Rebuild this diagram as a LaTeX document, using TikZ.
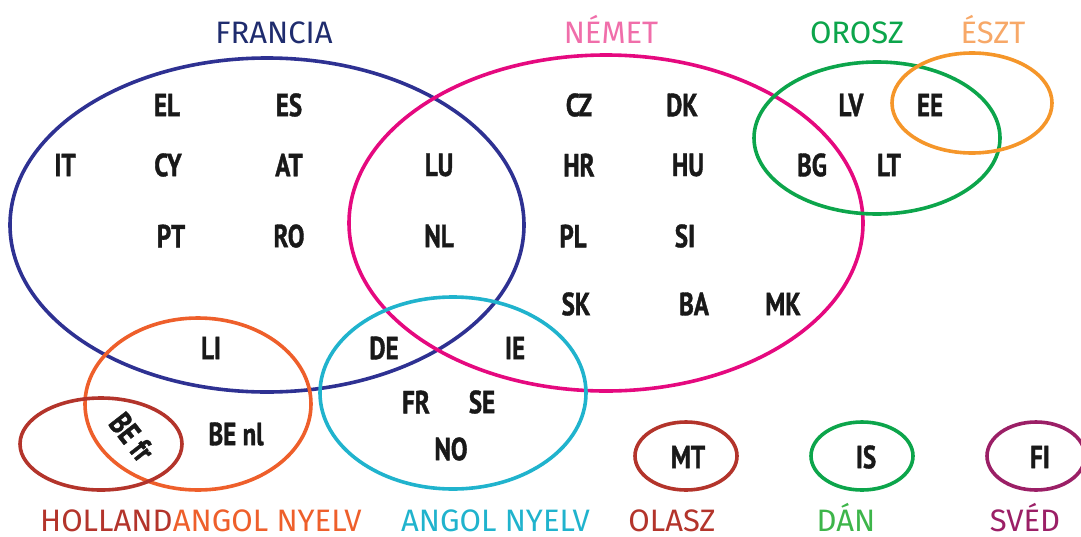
\documentclass[tikz,border=0pt]{standalone}
\usepackage{fontspec}
\setmainfont{Fira Sans}
\newfontfamily\codefont[FakeStretch=0.78,FakeBold=1.2]{PT Sans}
\newfontfamily\labfont{Fira Sans}
\definecolor{cfr}{HTML}{2E3192}
\definecolor{cfrt}{HTML}{1F2C6E}
\definecolor{cde}{HTML}{E5097F}
\definecolor{cdet}{HTML}{F06EAA}
\definecolor{cru}{HTML}{0CA54B}
\definecolor{cee}{HTML}{F5962A}
\definecolor{ceet}{HTML}{F7A868}
\definecolor{cen}{HTML}{EE5F2B}
\definecolor{cie}{HTML}{20B3CD}
\definecolor{cnl}{HTML}{B3342B}
\definecolor{cdk}{HTML}{16A74A}
\definecolor{cdkt}{HTML}{3DB54A}
\definecolor{cse}{HTML}{9B1F66}
\tikzset{
  ring/.style={line width=3.6pt},
  code/.style={font=\codefont\bfseries\fontsize{32}{32}\selectfont, text=black!90, inner sep=0pt},
  lab/.style={font=\labfont\fontsize{31}{31}\selectfont, inner sep=0pt, text depth=0pt},
}
\begin{document}
\begin{tikzpicture}[x=1pt,y=-1pt]
\useasboundingbox (0,0) rectangle (1081,536);
% ellipses
\draw[ring,cfr] (267,225) ellipse [x radius=257pt, y radius=167pt];
\draw[ring,cde] (606,223) ellipse [x radius=257pt, y radius=168pt];
\draw[ring,cru] (877,138) ellipse [x radius=123pt, y radius=76pt];
\draw[ring,cee] (972,103) ellipse [x radius=80pt, y radius=50pt];
\draw[ring,cen] (198,404) ellipse [x radius=113pt, y radius=86pt];
\draw[ring,cnl] (101,444) ellipse [x radius=81pt, y radius=46pt];
\draw[ring,cie] (453,393) ellipse [x radius=133pt, y radius=96pt];
\draw[ring,cnl] (686,456) ellipse [x radius=51pt, y radius=34pt];
\draw[ring,cru] (862,456) ellipse [x radius=51pt, y radius=34pt];
\draw[ring,cse] (1036,456) ellipse [x radius=49pt, y radius=34pt];
% top labels
\node[lab,text=cfrt,anchor=base] (lfr) at (274,43) {FRANCIA};
\node[lab,text=cdet,anchor=base] (lde) at (611,43) {NÉMET};
\node[lab,text=cru,anchor=base] (lru) at (857,43) {OROSZ};
\node[lab,text=ceet,anchor=base] (lee) at (993,43) {ÉSZT};
% bottom labels
\node[lab,text=cnl,anchor=base west] (lnl) at (40,531) {HOLLAND};
\node[lab,text=cen,anchor=base west] (len1) at (lnl.base east) {ANGOL NYELV};
\node[lab,text=cie,anchor=base west] (len2) at (401,531) {ANGOL NYELV};
\node[lab,text=cnl,anchor=base] (lit) at (672,531) {OLASZ};
\node[lab,text=cdkt,anchor=base] (ldk) at (846,531) {DÁN};
\node[lab,text=cse,anchor=base] (lse) at (1025,531) {SVÉD};
% country codes
\node[code] (EL) at (167,105) {EL};
\node[code] (ES) at (289,105) {ES};
\node[code] (IT) at (65,165) {IT};
\node[code] (CY) at (168,165) {CY};
\node[code] (AT) at (289,165) {AT};
\node[code] (LU) at (439,165) {LU};
\node[code] (PT) at (171,236) {PT};
\node[code] (RO) at (289,236) {RO};
\node[code] (NL) at (439,236) {NL};
\node[code] (CZ) at (579,105) {CZ};
\node[code] (DK) at (682,105) {DK};
\node[code] (HR) at (579,165) {HR};
\node[code] (HU) at (688,165) {HU};
\node[code] (PL) at (573,236) {PL};
\node[code] (SI) at (685,236) {SI};
\node[code] (SK) at (576,304) {SK};
\node[code] (BA) at (694,304) {BA};
\node[code] (MK) at (783,304) {MK};
\node[code] (LV) at (851,105) {LV};
\node[code] (EE) at (930,105) {EE};
\node[code] (BG) at (812,165) {BG};
\node[code] (LT) at (889,165) {LT};
\node[code] (LI) at (211,348) {LI};
\node[code] (DE) at (384,348) {DE};
\node[code] (IE) at (515,348) {IE};
\node[code] (FR) at (416,402) {FR};
\node[code] (SE) at (482,402) {SE};
\node[code] (NO) at (451,449) {NO};
\node[code] (BEnl) at (236,434) {BE nl};
\node[code,rotate=-52] (BEfr) at (132,437) {BE fr};
\node[code] (MT) at (688,457) {MT};
\node[code] (IS) at (866,457) {IS};
\node[code] (FI) at (1040,457) {FI};
\end{tikzpicture}
\end{document}
